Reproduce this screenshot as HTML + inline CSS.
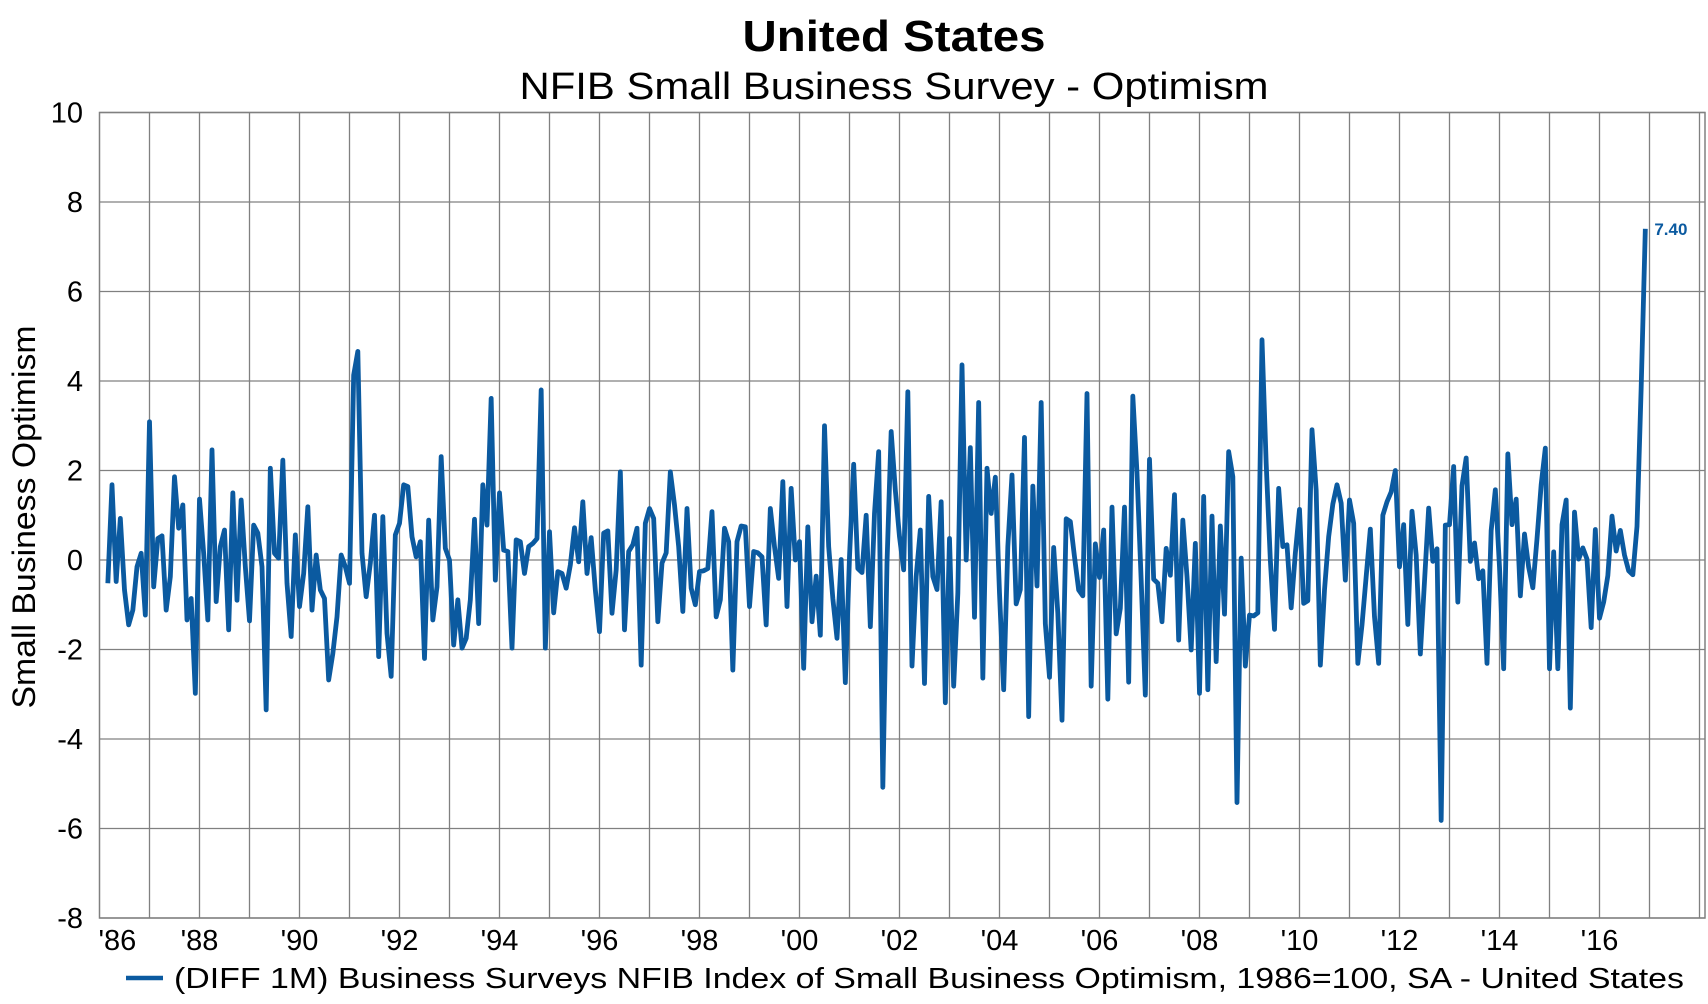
<!DOCTYPE html>
<html><head><meta charset="utf-8"><style>
html,body{margin:0;padding:0;background:#fff;}
svg{display:block;font-family:"Liberation Sans",Arial,sans-serif;}
</style></head><body>
<svg id="chart" width="1708" height="1004" viewBox="0 0 1708 1004">
<text x="894" y="51" text-anchor="middle" font-size="44" font-weight="bold" textLength="303" lengthAdjust="spacingAndGlyphs">United States</text>
<text x="894" y="99" text-anchor="middle" font-size="38" textLength="749" lengthAdjust="spacingAndGlyphs">NFIB Small Business Survey - Optimism</text>
<g id="grid"></g>
<g id="yticks"></g>
<g id="xticks"></g>
<text transform="translate(35,517) rotate(-90)" text-anchor="middle" font-size="32" textLength="383" lengthAdjust="spacingAndGlyphs">Small Business Optimism</text>
<rect x="99.5" y="112.5" width="1605.5" height="805.5" fill="none" stroke="#808080" stroke-width="1.5"/>
<path id="series" fill="none" stroke="#0b5aa0" stroke-width="4.8" stroke-linejoin="round"/>
<text id="lastlabel" font-size="17" font-weight="bold" fill="#0b5aa0"></text>
<g>
<line x1="126" y1="978" x2="163" y2="978" stroke="#0b5aa0" stroke-width="4.5"/>
<text x="174" y="988" font-size="29" textLength="1510" lengthAdjust="spacingAndGlyphs">(DIFF 1M) Business Surveys NFIB Index of Small Business Optimism, 1986=100, SA - United States</text>
</g>
</svg>
<script>
const values = [
-0.52,1.68,-0.48,0.93,-0.67,-1.45,-1.12,-0.15,0.15,-1.23,3.09,-0.6,0.48,0.54,-1.12,-0.37,1.86,0.71,1.23,-1.34,-0.86,-2.98,1.36,0.15,-1.34,2.46,-0.93,0.3,0.67,-1.56,1.5,-0.9,1.34,-0.15,-1.36,0.78,0.6,-0.15,-3.35,
2.05,0.15,0.04,2.23,-0.52,-1.71,0.56,-1.04,-0.3,1.19,-1.12,0.11,-0.67,-0.86,-2.68,-2.09,-1.27,0.11,-0.15,-0.52,4.13,4.66,0.15,-0.82,-0.07,1.0,-2.16,0.97,-1.64,-2.6,0.56,0.82,1.68,1.64,0.52,0.07,0.41,-2.2,0.89,-1.34,-0.6,2.31,
0.26,0,-1.9,-0.89,-1.97,-1.75,-0.89,0.91,-1.42,1.68,0.78,3.61,-0.45,1.5,0.22,0.19,-1.97,0.45,0.41,-0.3,0.3,0.37,0.48,3.8,-1.97,0.63,-1.18,-0.26,-0.3,-0.63,-0.11,0.72,-0.04,1.3,-0.3,0.5,-0.67,-1.6,0.6,0.65,-1.19,-0.22,
1.97,-1.56,0.19,0.34,0.71,-2.35,0.82,1.15,0.93,-1.38,-0.07,0.16,1.97,1.23,0.3,-1.15,1.15,-0.63,-1.0,-0.26,-0.24,-0.19,1.08,-1.27,-0.89,0.71,0.41,-2.46,0.41,0.76,0.74,-1.04,0.19,0.16,0.07,-1.45,1.15,0.3,-0.41,1.75,-1.04,1.6,
0,0.41,-2.42,0.74,-1.38,-0.36,-1.68,3.0,0.3,-0.86,-1.75,0.01,-2.74,0.07,2.14,-0.19,-0.28,1.0,-1.49,1.04,2.42,-5.08,-0.07,2.87,1.56,0.52,-0.22,3.76,-2.37,-0.37,0.67,-2.76,1.42,-0.37,-0.66,1.3,-3.19,0.48,-2.82,-0.74,4.36,0,2.51,-1.28,3.52,-2.64,2.05,
1.04,1.85,-0.74,-2.9,0.3,1.9,-0.98,-0.66,2.74,-3.5,1.65,-0.58,3.52,-1.42,-2.62,0.28,-1.19,-3.58,0.92,0.86,0.07,-0.67,-0.8,3.72,-2.82,0.36,-0.39,0.67,-3.11,1.18,-1.65,-1.08,1.18,-2.73,3.66,1.94,-0.45,-3.02,2.25,-0.43,-0.52,-1.38,0.26,-0.34,1.46,-1.79,0.89,
-0.37,-2.01,0.37,-2.98,1.42,-2.9,0.98,-2.27,0.76,-1.21,2.42,1.86,-5.42,0.04,-2.37,-1.23,-1.25,-1.18,4.92,2.16,0,-1.55,1.6,0.3,0.34,-1.07,0.15,1.13,-0.97,-0.91,2.91,1.56,-2.35,-0.67,0.52,1.25,1.68,1.27,-0.45,1.34,0.82,-2.31,-1.45,-0.37,0.69,-1.27,-2.31,
1.0,1.3,1.52,2.0,-0.15,0.79,-1.44,1.09,0.11,-2.1,-0.48,1.16,-0.03,0.25,-5.82,0.78,0.79,2.09,-0.94,1.66,2.28,-0.03,0.38,-0.42,-0.24,-2.31,0.66,1.57,-0.16,-2.43,2.37,0.79,1.36,-0.8,0.58,-0.16,-0.62,0.47,1.68,2.5,-2.43,0.18,-2.43,0.79,1.34,-3.31,1.07,0.02,0.27,0.02,-1.51,0.68,-1.3,-0.94,-0.35,0.98,0.2,0.66,0.11,-0.24,-0.33,0.75,3.85,7.4
];
const yTicks = [10,8,6,4,2,0,-2,-4,-6,-8];
const xTickYears = [1986,1988,1990,1992,1994,1996,1998,2000,2002,2004,2006,2008,2010,2012,2014,2016];
const lastLabel = "7.40";
const endYear = 2016, endMonth = 11;

const NS = "http://www.w3.org/2000/svg";
const X0 = 99.5, PXYEAR = 50, YTOP = 112.5, YBOT = 918, YMAX = 10, YMIN = -8;
function xOf(t){ return X0 + (t - 1986) * PXYEAR; }
function yOf(v){ return YTOP + (YMAX - v) / (YMAX - YMIN) * (YBOT - YTOP); }
function mk(tag, attrs, parent){ const e = document.createElementNS(NS, tag); for (const k in attrs) e.setAttribute(k, attrs[k]); parent.appendChild(e); return e; }

const grid = document.getElementById('grid');
for (let yr = 1987; yr <= 2018; yr++) {
  const x = xOf(yr); if (x > 1705) break;
  const l = mk('line', {x1:x, x2:x, y1:YTOP, y2:YBOT, stroke:'#808080', 'stroke-width':1.3}, grid);
  
  
}
const yt = document.getElementById('yticks');
yTicks.forEach(v => {
  const y = yOf(v);
  const l = mk('line', {x1:X0, x2:1705, y1:y, y2:y, stroke:'#808080', 'stroke-width':1.3}, grid);
  
  
  const t = mk('text', {x:83, y:y+10, 'text-anchor':'end', 'font-size':29}, yt);
  t.textContent = v;
  
  
});
const xt = document.getElementById('xticks');
xTickYears.forEach((yr, i) => {
  const x = xOf(yr);
  const t = mk('text', {x: i === 0 ? x - 1 : x, y:950, 'text-anchor': i === 0 ? 'start' : 'middle', 'font-size':29}, xt);
  t.textContent = "'" + String(yr).slice(2);
  
  
});

const n = values.length;
let d = '';
values.forEach((v, i) => {
  const monthsBack = n - 1 - i;
  const t = endYear + (endMonth - monthsBack) / 12;
  d += (i ? 'L' : 'M') + xOf(t).toFixed(2) + ',' + yOf(v).toFixed(2);
});
document.getElementById('series').setAttribute('d', d);
const lastX = xOf(endYear + endMonth / 12), lastY = yOf(values[n - 1]);
const ll = document.getElementById('lastlabel');
ll.setAttribute('x', lastX + 9);
ll.setAttribute('y', lastY + 6);
ll.textContent = lastLabel;
</script>
</body></html>
